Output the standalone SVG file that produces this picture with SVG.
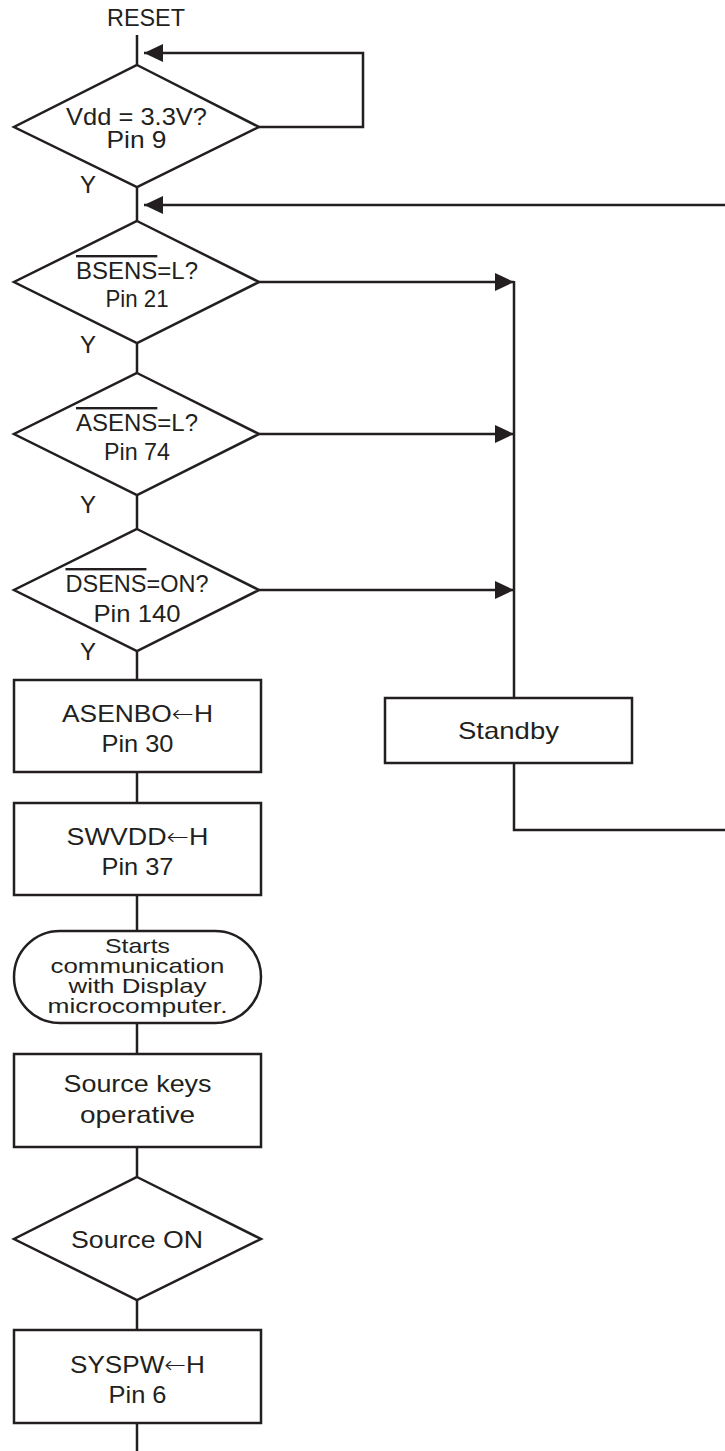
<svg xmlns="http://www.w3.org/2000/svg" width="725" height="1451" viewBox="0 0 725 1451">
<style>
.s{fill:#fff;stroke:#231f20;stroke-width:2.5}
.c{fill:none;stroke:#231f20;stroke-width:2.5}
.t{font-family:"Liberation Sans",Arial,sans-serif;font-size:24px;fill:#231f20;text-anchor:middle}
.sm{font-size:21px}
.ov{text-decoration:overline}
.ar{font-family:"DejaVu Sans",sans-serif;font-weight:300}
</style>
<defs>
<marker id="ah" viewBox="0 0 19 18" refX="19" refY="9" markerWidth="19" markerHeight="18" markerUnits="userSpaceOnUse" orient="auto">
<path d="M0,0 L19,9 L0,18 Z" fill="#231f20"/>
</marker>
</defs>
<g id="connectors">
<line class="c" x1="137" y1="35" x2="137" y2="65"/>
<polyline class="c" points="259,127 363,127 363,53 144,53" marker-end="url(#ah)"/>
<line class="c" x1="137" y1="187" x2="137" y2="221"/>
<line class="c" x1="725" y1="205" x2="144" y2="205" marker-end="url(#ah)"/>
<line class="c" x1="137" y1="343" x2="137" y2="373"/>
<line class="c" x1="137" y1="495" x2="137" y2="529"/>
<line class="c" x1="137" y1="651" x2="137" y2="680"/>
<line class="c" x1="137" y1="772" x2="137" y2="803"/>
<line class="c" x1="137" y1="895" x2="137" y2="931"/>
<line class="c" x1="137" y1="1023" x2="137" y2="1054"/>
<line class="c" x1="137" y1="1147" x2="137" y2="1177"/>
<line class="c" x1="137" y1="1300" x2="137" y2="1330"/>
<line class="c" x1="137" y1="1423" x2="137" y2="1451"/>
<line class="c" x1="259" y1="282" x2="514" y2="282" marker-end="url(#ah)"/>
<line class="c" x1="259" y1="434" x2="514" y2="434" marker-end="url(#ah)"/>
<line class="c" x1="259" y1="590" x2="514" y2="590" marker-end="url(#ah)"/>
<line class="c" x1="514" y1="281" x2="514" y2="698"/>
<polyline class="c" points="514,763 514,830 725,830"/>
</g>
<g id="reset"><text class="t" x="146" y="26" textLength="78" lengthAdjust="spacingAndGlyphs">RESET</text></g>
<g id="d1">
<polygon class="s" points="137,65 259,127 137,187 14,127"/>
<text class="t" x="136.5" y="125" textLength="141" lengthAdjust="spacingAndGlyphs">Vdd = 3.3V?</text>
<text class="t" x="136.5" y="148" textLength="60" lengthAdjust="spacingAndGlyphs">Pin 9</text>
<text class="t" x="88" y="193">Y</text>
</g>
<g id="d2">
<polygon class="s" points="137,221 259,282 137,343 14,282"/>
<text class="t" x="137" y="279" textLength="122" lengthAdjust="spacingAndGlyphs"><tspan class="ov">BSENS</tspan>=L?</text>
<text class="t" x="137" y="307" textLength="63" lengthAdjust="spacingAndGlyphs">Pin 21</text>
<text class="t" x="88" y="353">Y</text>
</g>
<g id="d3">
<polygon class="s" points="137,373 259,434 137,495 14,434"/>
<text class="t" x="137" y="431" textLength="122" lengthAdjust="spacingAndGlyphs"><tspan class="ov">ASENS</tspan>=L?</text>
<text class="t" x="137" y="460" textLength="66" lengthAdjust="spacingAndGlyphs">Pin 74</text>
<text class="t" x="88" y="513">Y</text>
</g>
<g id="d4">
<polygon class="s" points="137,529 259,590 137,651 14,590"/>
<text class="t" x="137" y="592" textLength="143" lengthAdjust="spacingAndGlyphs"><tspan class="ov">DSENS</tspan>=ON?</text>
<text class="t" x="137" y="622" textLength="87" lengthAdjust="spacingAndGlyphs">Pin 140</text>
<text class="t" x="88" y="660">Y</text>
</g>
<g id="b1">
<rect class="s" x="14" y="680" width="247" height="92"/>
<text class="t" x="137.5" y="722" textLength="151" lengthAdjust="spacingAndGlyphs">ASENBO<tspan class="ar">←</tspan>H</text>
<text class="t" x="137.5" y="752" textLength="72" lengthAdjust="spacingAndGlyphs">Pin 30</text>
</g>
<g id="b2">
<rect class="s" x="14" y="803" width="247" height="92"/>
<text class="t" x="137.5" y="845" textLength="142" lengthAdjust="spacingAndGlyphs">SWVDD<tspan class="ar">←</tspan>H</text>
<text class="t" x="137.5" y="875" textLength="72" lengthAdjust="spacingAndGlyphs">Pin 37</text>
</g>
<g id="term">
<rect class="s" x="14" y="931" width="247" height="92" rx="46" ry="46"/>
<text class="t sm" x="137.5" y="953" textLength="65" lengthAdjust="spacingAndGlyphs">Starts</text>
<text class="t sm" x="137.5" y="973" textLength="174" lengthAdjust="spacingAndGlyphs">communication</text>
<text class="t sm" x="137.5" y="993" textLength="138" lengthAdjust="spacingAndGlyphs">with Display</text>
<text class="t sm" x="137.5" y="1013" textLength="180" lengthAdjust="spacingAndGlyphs">microcomputer.</text>
</g>
<g id="b3">
<rect class="s" x="14" y="1054" width="247" height="93"/>
<text class="t" x="137.5" y="1092" textLength="148" lengthAdjust="spacingAndGlyphs">Source keys</text>
<text class="t" x="137.5" y="1123" textLength="115" lengthAdjust="spacingAndGlyphs">operative</text>
</g>
<g id="d5">
<polygon class="s" points="137,1177 261,1239 137,1300 14,1239"/>
<text class="t" x="137" y="1248" textLength="132" lengthAdjust="spacingAndGlyphs">Source ON</text>
</g>
<g id="b4">
<rect class="s" x="14" y="1330" width="247" height="93"/>
<text class="t" x="137.5" y="1373" textLength="135" lengthAdjust="spacingAndGlyphs">SYSPW<tspan class="ar">←</tspan>H</text>
<text class="t" x="137.5" y="1403" textLength="58" lengthAdjust="spacingAndGlyphs">Pin 6</text>
</g>
<g id="standby">
<rect class="s" x="385" y="698" width="247" height="65"/>
<text class="t" x="508.5" y="739" textLength="101" lengthAdjust="spacingAndGlyphs">Standby</text>
</g>
</svg>
